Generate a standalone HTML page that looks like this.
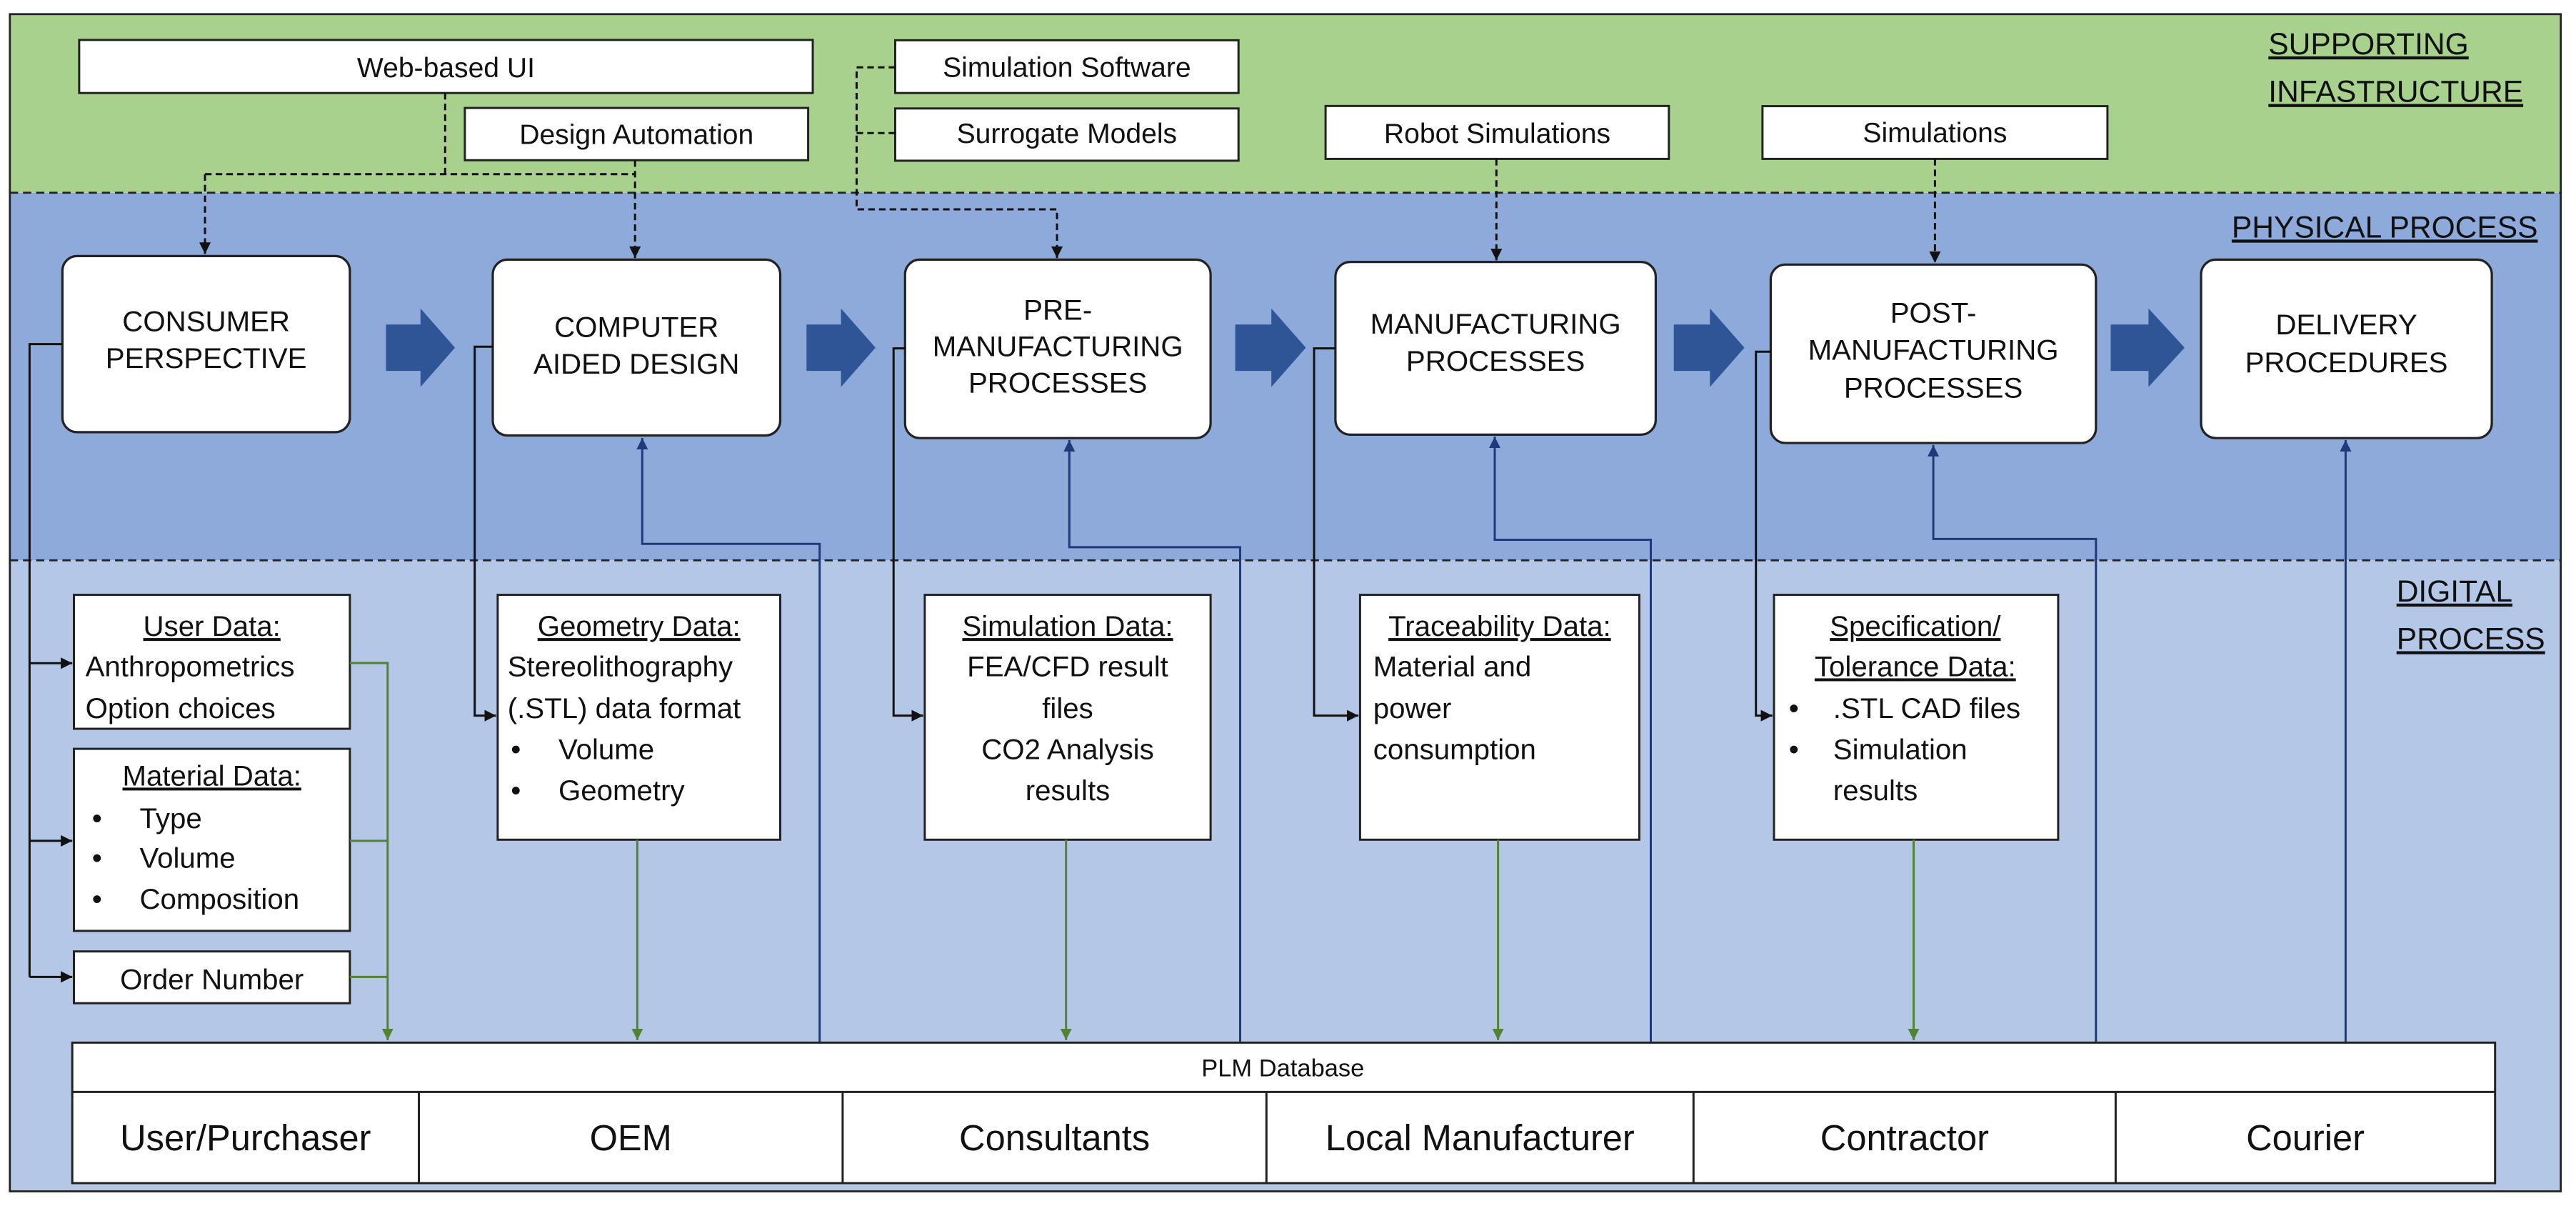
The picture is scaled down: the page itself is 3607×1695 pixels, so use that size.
<!DOCTYPE html>
<html><head><meta charset="utf-8"><style>
html,body{margin:0;padding:0;background:#fff;}
svg{display:block;}
text{font-family:"Liberation Sans",sans-serif;fill:#111;}
.u{text-decoration:underline;}
</style></head><body>
<svg width="3607" height="1695" viewBox="0 0 1568.26 736.96" preserveAspectRatio="none" xmlns="http://www.w3.org/2000/svg">
<defs>
<marker id="ak" markerWidth="8" markerHeight="8" refX="7" refY="4" orient="auto" markerUnits="userSpaceOnUse"><path d="M0,0.5 L7,4 L0,7.5 z" fill="#111"/></marker>
<marker id="ab" markerWidth="8" markerHeight="8" refX="7" refY="4" orient="auto" markerUnits="userSpaceOnUse"><path d="M0,0.5 L7,4 L0,7.5 z" fill="#1f3a7a"/></marker>
<marker id="ag" markerWidth="8" markerHeight="8" refX="7" refY="4" orient="auto" markerUnits="userSpaceOnUse"><path d="M0,0.5 L7,4 L0,7.5 z" fill="#548235"/></marker>
</defs>
<rect x="6" y="8.6" width="1553" height="108.7" fill="#a9d18e"/>
<rect x="6" y="117.3" width="1553" height="223.7" fill="#8eaadb"/>
<rect x="6" y="341" width="1553" height="384" fill="#b4c7e7"/>
<rect x="6" y="8.6" width="1553" height="716.4" fill="none" stroke="#222" stroke-width="1.2"/>
<line x1="6" y1="117.3" x2="1559" y2="117.3" stroke="#222" stroke-width="1.2" stroke-dasharray="5 3"/>
<line x1="6" y1="341" x2="1559" y2="341" stroke="#222" stroke-width="1.2" stroke-dasharray="5 3"/>

<g font-size="18.5">
<text x="1381" y="33" class="u">SUPPORTING</text>
<text x="1381" y="62" class="u">INFASTRUCTURE</text>
<text x="1545" y="144.5" text-anchor="end" class="u">PHYSICAL PROCESS</text>
<text x="1459" y="366" class="u">DIGITAL</text>
<text x="1459" y="395" class="u">PROCESS</text>
</g>

<g fill="#fff" stroke="#222" stroke-width="1.3">
<rect x="48.2" y="24.3" width="446.6" height="32.3"/>
<rect x="283" y="65.7" width="209" height="31.8"/>
<rect x="545" y="24.5" width="209" height="32.1"/>
<rect x="545" y="66" width="209" height="31.8"/>
<rect x="807" y="64.5" width="209" height="32.2"/>
<rect x="1073" y="64.6" width="210" height="32.1"/>
</g>
<g font-size="17" text-anchor="middle">
<text x="271.5" y="47">Web-based UI</text>
<text x="387.5" y="87.7">Design Automation</text>
<text x="649.5" y="46.8">Simulation Software</text>
<text x="649.5" y="87">Surrogate Models</text>
<text x="911.5" y="87">Robot Simulations</text>
<text x="1178" y="86.5">Simulations</text>
</g>

<g fill="none" stroke="#111" stroke-width="1.3" stroke-dasharray="4 2.5">
<path d="M271,56.6 V106 M124.8,106 H386.6"/>
<path d="M124.8,106 V154.5" marker-end="url(#ak)"/>
<path d="M386.6,97.5 V157" marker-end="url(#ak)"/>
<path d="M545,41 H521.5 V127.4 H643.5 V157" marker-end="url(#ak)"/>
<path d="M545,81 H521.5"/>
<path d="M911,96.7 V158.4" marker-end="url(#ak)"/>
<path d="M1178,96.7 V160" marker-end="url(#ak)"/>
</g>

<g fill="#2f5597">
<path d="M235,197.5 H256 V187.7 L277,211.6 L256,235.5 V225.7 H235 z"/>
<path d="M491,197.5 H512 V187.7 L533,211.6 L512,235.5 V225.7 H491 z"/>
<path d="M752,197.5 H774 V187.7 L795,211.6 L774,235.5 V225.7 H752 z"/>
<path d="M1019,197.5 H1041 V187.7 L1062,211.6 L1041,235.5 V225.7 H1019 z"/>
<path d="M1285,197.5 H1308 V187.7 L1330,211.6 L1308,235.5 V225.7 H1285 z"/>
</g>

<g fill="#fff" stroke="#222" stroke-width="1.4">
<rect x="38" y="155.8" width="175" height="107.2" rx="9"/>
<rect x="300" y="158" width="175" height="107" rx="9"/>
<rect x="551" y="158" width="186" height="108.6" rx="9"/>
<rect x="813" y="159.4" width="195" height="105.1" rx="9"/>
<rect x="1078" y="161" width="198" height="108.6" rx="9"/>
<rect x="1340" y="158" width="177" height="108.6" rx="9"/>
</g>
<g font-size="17.5" text-anchor="middle">
<text x="125.5" y="201.5">CONSUMER</text><text x="125.5" y="224">PERSPECTIVE</text>
<text x="387.5" y="205">COMPUTER</text><text x="387.5" y="227.5">AIDED DESIGN</text>
<text x="644" y="194.5">PRE-</text><text x="644" y="216.8">MANUFACTURING</text><text x="644" y="239">PROCESSES</text>
<text x="910.5" y="203">MANUFACTURING</text><text x="910.5" y="225.7">PROCESSES</text>
<text x="1177" y="196.3">POST-</text><text x="1177" y="219">MANUFACTURING</text><text x="1177" y="242">PROCESSES</text>
<text x="1428.5" y="203.5">DELIVERY</text><text x="1428.5" y="226.5">PROCEDURES</text>
</g>

<g fill="none" stroke="#111" stroke-width="1.3">
<path d="M38,209.4 H18 V594.5"/>
<path d="M18,403.6 H44" marker-end="url(#ak)"/>
<path d="M18,511.7 H44" marker-end="url(#ak)"/>
<path d="M18,594.5 H44" marker-end="url(#ak)"/>
<path d="M300,211 H289 V435.5 H302" marker-end="url(#ak)"/>
<path d="M551,212 H544 V435.5 H562" marker-end="url(#ak)"/>
<path d="M813,212 H800 V435.5 H827" marker-end="url(#ak)"/>
<path d="M1078,214 H1069 V435.5 H1079" marker-end="url(#ak)"/>
</g>

<g fill="none" stroke="#1f3a7a" stroke-width="1.3">
<path d="M499,634.5 V331 H391 V266.5" marker-end="url(#ab)"/>
<path d="M755,634.5 V333 H651 V267.8" marker-end="url(#ab)"/>
<path d="M1005,634.5 V328.5 H910 V265.7" marker-end="url(#ab)"/>
<path d="M1276,634.5 V328 H1177 V270.8" marker-end="url(#ab)"/>
<path d="M1428,634.5 V267.8" marker-end="url(#ab)"/>
</g>

<g fill="#fff" stroke="#222" stroke-width="1.3">
<rect x="45" y="362" width="168" height="81.5"/>
<rect x="45" y="455.7" width="168" height="110.8"/>
<rect x="45" y="579" width="168" height="31.5"/>
<rect x="303" y="362" width="172" height="149"/>
<rect x="563" y="362" width="174" height="149"/>
<rect x="828" y="362" width="170" height="149"/>
<rect x="1080" y="362" width="173" height="149"/>
</g>
<g font-size="17.5">
<g text-anchor="middle">
<text x="129" y="387" class="u">User Data:</text>
<text x="129" y="478" class="u">Material Data:</text>
<text x="129" y="602">Order Number</text>
<text x="389" y="387" class="u">Geometry Data:</text>
<text x="650" y="387" class="u">Simulation Data:</text>
<text x="650" y="411.5">FEA/CFD result</text>
<text x="650" y="437">files</text>
<text x="650" y="462">CO2 Analysis</text>
<text x="650" y="487">results</text>
<text x="913" y="387" class="u">Traceability Data:</text>
<text x="1166" y="387" class="u">Specification/</text>
<text x="1166" y="411.5" class="u">Tolerance Data:</text>
</g>
<text x="52" y="411.5">Anthropometrics</text>
<text x="52" y="437">Option choices</text>
<text x="56" y="504">•</text><text x="85" y="504">Type</text>
<text x="56" y="528">•</text><text x="85" y="528">Volume</text>
<text x="56" y="553">•</text><text x="85" y="553">Composition</text>
<text x="309" y="411.5">Stereolithography</text>
<text x="309" y="437">(.STL) data format</text>
<text x="311" y="462">•</text><text x="340" y="462">Volume</text>
<text x="311" y="487">•</text><text x="340" y="487">Geometry</text>
<text x="836" y="411.5">Material and</text>
<text x="836" y="437">power</text>
<text x="836" y="462">consumption</text>
<text x="1089" y="437">•</text><text x="1116" y="437">.STL CAD files</text>
<text x="1089" y="462">•</text><text x="1116" y="462">Simulation</text>
<text x="1116" y="487">results</text>
</g>

<g fill="none" stroke="#548235" stroke-width="1.3">
<path d="M213,403.5 H236 V633" marker-end="url(#ag)"/>
<path d="M213,511.7 H236 M213,594.5 H236"/>
<path d="M388,511 V633" marker-end="url(#ag)"/>
<path d="M649,511 V633" marker-end="url(#ag)"/>
<path d="M912,511 V633" marker-end="url(#ag)"/>
<path d="M1165,511 V633" marker-end="url(#ag)"/>
</g>

<g fill="#fff" stroke="#222" stroke-width="1.3">
<rect x="44" y="634.5" width="1475" height="85.5"/>
<line x1="44" y1="664.5" x2="1519" y2="664.5"/>
<line x1="255" y1="664.5" x2="255" y2="720"/>
<line x1="513" y1="664.5" x2="513" y2="720"/>
<line x1="771" y1="664.5" x2="771" y2="720"/>
<line x1="1031" y1="664.5" x2="1031" y2="720"/>
<line x1="1288" y1="664.5" x2="1288" y2="720"/>
</g>
<text x="781" y="655" font-size="15" text-anchor="middle">PLM Database</text>
<g font-size="22" text-anchor="middle">
<text x="149.5" y="700">User/Purchaser</text>
<text x="384" y="700">OEM</text>
<text x="642" y="700">Consultants</text>
<text x="901" y="700">Local Manufacturer</text>
<text x="1159.5" y="700">Contractor</text>
<text x="1403.5" y="700">Courier</text>
</g>
</svg>
</body></html>
